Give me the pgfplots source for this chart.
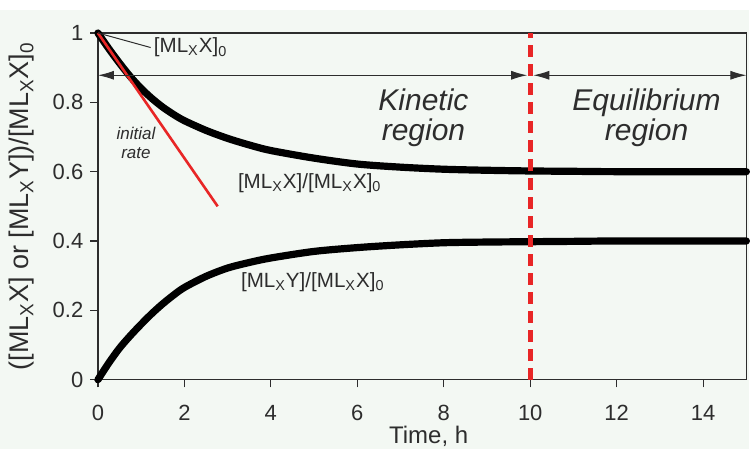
\documentclass[border=0pt]{standalone}
\usepackage{pgfplots}
\pgfplotsset{compat=1.18}
\usepackage{fontspec}
\setmainfont{Liberation Sans}
\usetikzlibrary{arrows.meta}
\definecolor{bg}{RGB}{243,248,243}
\definecolor{txt}{RGB}{45,45,45}
\definecolor{rred}{RGB}{232,38,38}
\newcommand{\ML}{ML\textsubscript{X}}
\begin{document}
\begin{tikzpicture}
\fill[white] (-49pt,-34.5pt) rectangle (326pt,190pt);
\fill[bg] (-49pt,-34.5pt) rectangle (326pt,185pt);
\begin{axis}[
  at={(0,0)}, anchor=south west,
  scale only axis, width=324.5pt, height=173.5pt,
  xmin=0, xmax=15, ymin=0, ymax=1,
  xtick={0,2,...,14}, ytick={0,0.2,...,1},
  yticklabels={0,0.2,0.4,0.6,0.8,1},
  tick align=outside, tick pos=left,
  major tick length=3.8pt,
  axis line style={txt, line width=0.6pt},
  tick style={txt, line width=0.6pt},
  clip=false,
  /pgf/number format/assume math mode=true,
  tick label style={font=\fontsize{11}{13}\selectfont, text=txt},
  xticklabel style={yshift=-5.5pt},
  every axis x label/.style={at={(axis description cs:0.51,0)}, yshift=-28.5pt, anchor=center},
  every axis y label/.style={at={(axis description cs:0,0.5)}, xshift=-38pt, rotate=90, anchor=center},
  label style={text=txt},
  xlabel style={font=\fontsize{12}{14}\selectfont},
  ylabel style={font=\fontsize{13.5}{15}\selectfont},
  xlabel={Time, h},
  ylabel={([\ML X] or [\ML Y])/[\ML X]\textsubscript{0}},
]
\addplot[black, line width=3.6pt, smooth, line cap=round] coordinates {
(0,1) (0.25,0.955) (0.5,0.913) (0.75,0.874) (1,0.840) (1.25,0.811) (1.5,0.786)
(1.75,0.765) (2,0.747) (2.5,0.719) (3,0.696) (3.5,0.677) (4,0.661) (5,0.639)
(6,0.622) (7,0.613) (8,0.607) (9,0.604) (10,0.602) (11,0.601) (12,0.600) (15,0.600)};
\addplot[black, line width=3.6pt, smooth, line cap=round] coordinates {
(0,0) (0.25,0.048) (0.5,0.091) (0.75,0.127) (1,0.160) (1.25,0.191) (1.5,0.219)
(1.75,0.244) (2,0.266) (2.5,0.298) (3,0.322) (3.5,0.338) (4,0.351) (5,0.370)
(6,0.381) (7,0.389) (8,0.395) (9,0.397) (10,0.398) (11,0.399) (12,0.400) (15,0.400)};
\addplot[rred, line width=1.3pt] coordinates {(0,1) (2.77,0.5)};
\addplot[rred, line width=2.3pt, dash pattern=on 6pt off 3.5pt] coordinates {(10,0) (10,1)};
\draw[txt, line width=0.5pt, {Latex[length=8pt,width=4.5pt]}-{Latex[length=8pt,width=4.5pt]}]
  (axis cs:0,0.878) -- (axis cs:9.93,0.878);
\draw[txt, line width=0.5pt, {Latex[length=8pt,width=4.5pt]}-{Latex[length=8pt,width=4.5pt]}]
  (axis cs:10.07,0.878) -- (axis cs:15,0.878);
\draw[txt, line width=0.5pt] (axis cs:0,1) -- (axis cs:1.22,0.958);
\node[anchor=west, text=txt, font=\fontsize{10.3}{12}\selectfont, inner sep=1pt] at (axis cs:1.24,0.958) {[\ML X]\textsubscript{0}};
\node[text=txt, font=\fontsize{10.3}{12}\selectfont] at (axis cs:4.9,0.568) {[\ML X]/[\ML X]\textsubscript{0}};
\node[text=txt, font=\fontsize{10.3}{12}\selectfont] at (axis cs:4.97,0.282) {[\ML Y]/[\ML X]\textsubscript{0}};
\node[text=txt, font=\fontsize{8.5}{9.5}\selectfont\itshape, align=center] at (axis cs:0.88,0.683) {initial\\rate};
\node[text=txt, font=\fontsize{15}{15}\selectfont\itshape, align=center] at (axis cs:7.53,0.755) {Kinetic\\region};
\node[text=txt, font=\fontsize{15}{15}\selectfont\itshape, align=center] at (axis cs:12.69,0.755) {Equilibrium\\region};
\end{axis}
\end{tikzpicture}
\end{document}
